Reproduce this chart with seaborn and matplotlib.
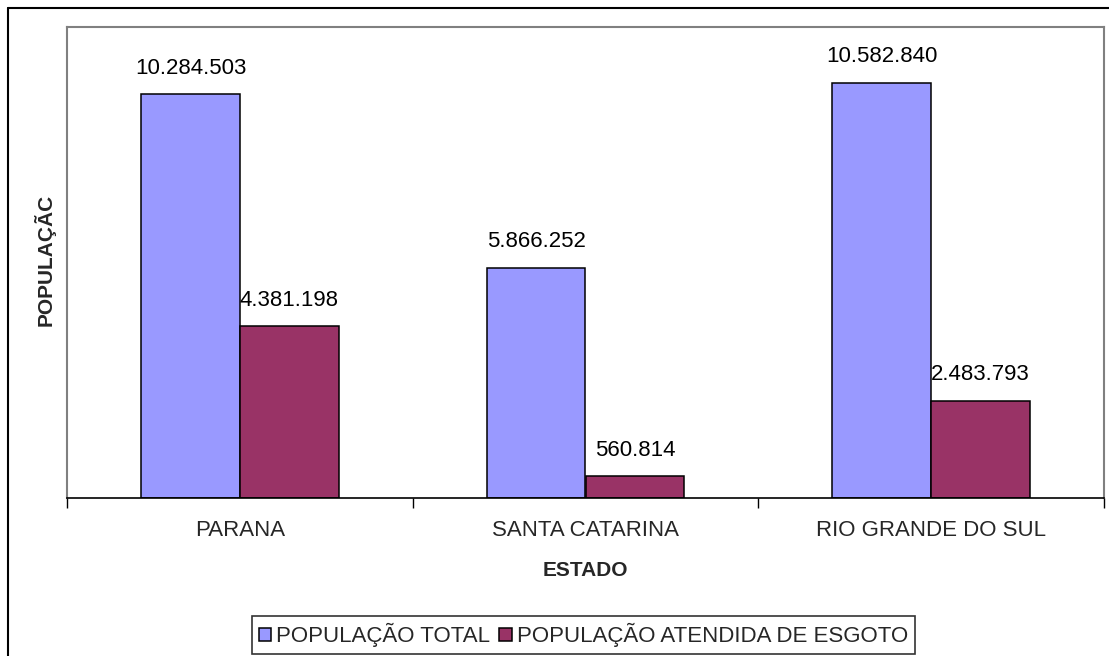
import matplotlib
matplotlib.use("Agg")
import matplotlib.pyplot as plt
import seaborn as sns
import pandas as pd
from matplotlib.lines import Line2D

estados = ["PARANA", "SANTA CATARINA", "RIO GRANDE DO SUL"]
series = ["POPULAÇÃO TOTAL", "POPULAÇÃO ATENDIDA DE ESGOTO"]
pop_total = [10284503, 5866252, 10582840]
pop_esgoto = [4381198, 560814, 2483793]
colors = ["#9999FF", "#993366"]

sns.set_style("white")
plt.rcParams["font.family"] = ["Liberation Sans", "DejaVu Sans"]

df = pd.DataFrame({
    "estado": estados * 2,
    "serie": [series[0]] * 3 + [series[1]] * 3,
    "pop": pop_total + pop_esgoto,
})

fig = plt.figure(figsize=(11.09, 6.56), dpi=100)
ax = fig.add_axes([67 / 1109, 1 - 498 / 656, (1104 - 67) / 1109, (498 - 27) / 656])

sns.barplot(data=df, x="estado", y="pop", hue="serie", order=estados, hue_order=series,
            palette=colors, width=0.571, edgecolor="black", linewidth=1.1,
            saturation=1, ax=ax, legend=True)

for cont, vals in zip(ax.containers, [pop_total, pop_esgoto]):
    ax.bar_label(cont, labels=[f"{v:,}".replace(",", ".") for v in vals],
                 padding=11, fontsize=16, color="black")

ax.set_ylim(0, 12000000)
ax.set_xlim(-0.5, 2.5)
ax.set_yticks([])
ax.set_xticks([-0.5, 0.5, 1.5, 2.5], minor=True)
ax.tick_params(axis="x", which="major", length=0, pad=16, labelsize=16)
ax.tick_params(axis="x", which="minor", length=7, width=1, direction="out", color="black", bottom=True)
ax.set_xlabel("")
ax.set_ylabel("")
for s in ["top", "left", "right"]:
    ax.spines[s].set_color("#808080")
    ax.spines[s].set_linewidth(1.5)
ax.spines["bottom"].set_color("black")
ax.spines["bottom"].set_linewidth(1.2)

fig.text(585.5 / 1109, 1 - 571 / 656, "ESTADO", ha="center", va="center",
         fontsize=15, fontweight="bold")
fig.text(45 / 1109, 1 - 260 / 656, "POPULAÇÃC", ha="center", va="center",
         rotation=90, fontsize=15, fontweight="bold")

handles, labels = ax.get_legend_handles_labels()
ax.get_legend().remove()
leg = fig.legend(handles, labels, loc="center", bbox_to_anchor=(583.5 / 1109, 1 - 635 / 656),
                 ncol=2, fontsize=16, frameon=True, fancybox=False, edgecolor="black",
                 handlelength=0.55, handleheight=0.55, handletextpad=0.25, columnspacing=0.4,
                 borderpad=0.3, borderaxespad=0)
leg.get_frame().set_linewidth(1.2)

fig.add_artist(Line2D([7.5 / 1109, 7.5 / 1109], [0, 1 - 8 / 656], color="black", lw=1.5,
                      transform=fig.transFigure))
fig.add_artist(Line2D([7.5 / 1109, 1], [1 - 8 / 656, 1 - 8 / 656], color="black", lw=1.5,
                      transform=fig.transFigure))

fig.savefig("out.png", dpi=100)
